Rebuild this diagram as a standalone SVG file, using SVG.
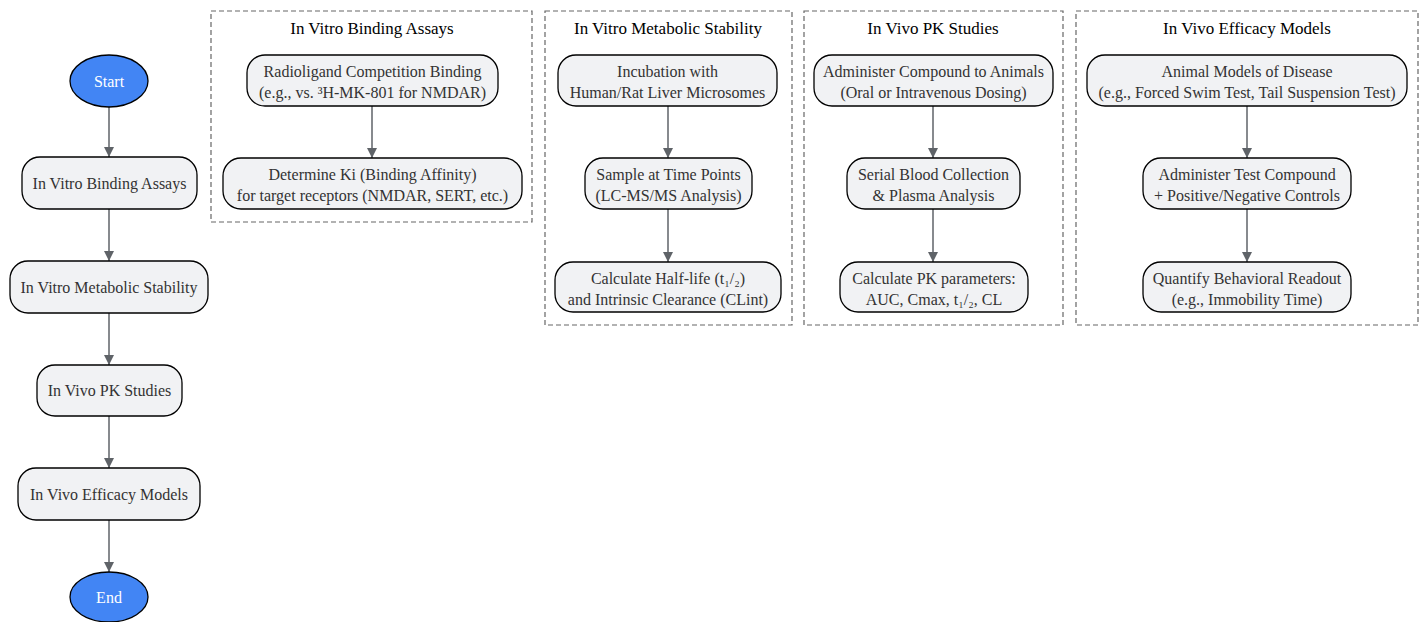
<svg xmlns="http://www.w3.org/2000/svg" width="1423" height="622" viewBox="0 0 1423 622">
<defs>
<marker id="ah" viewBox="0 0 10 10" refX="10" refY="5" markerWidth="10" markerHeight="10" markerUnits="userSpaceOnUse" orient="auto">
<path d="M0,0 L10,5 L0,10 z" fill="#5f6368"/>
</marker>
<style>
.n rect{fill:#f1f2f4;stroke:#000;stroke-width:1.3}
.n text{font-family:"Liberation Serif",serif;font-size:16px;fill:#333;text-anchor:middle;dominant-baseline:central}
.t ellipse{fill:#4285f4;stroke:#000;stroke-width:1.3}
.t text{font-family:"Liberation Serif",serif;font-size:16px;fill:#fff;text-anchor:middle;dominant-baseline:central}
.cl rect{fill:none;stroke:#666;stroke-width:1.2;stroke-dasharray:5,3}
.cl text{font-family:"Liberation Serif",serif;font-size:17px;fill:#000;text-anchor:middle;dominant-baseline:central}
.e line{stroke:#5f6368;stroke-width:1.5;marker-end:url(#ah)}
</style>
</defs>
<rect width="1423" height="622" fill="#fff"/>

<g id="cluster-binding" class="cl"><rect x="211" y="11" width="321" height="211"/><text x="372" y="28">In Vitro Binding Assays</text></g>
<g id="cluster-metabolic" class="cl"><rect x="545" y="11" width="247" height="314"/><text x="668" y="28">In Vitro Metabolic Stability</text></g>
<g id="cluster-pk" class="cl"><rect x="804" y="11" width="259" height="314"/><text x="933" y="28">In Vivo PK Studies</text></g>
<g id="cluster-efficacy" class="cl"><rect x="1076" y="11" width="342" height="314"/><text x="1247" y="28">In Vivo Efficacy Models</text></g>

<g id="connectors" class="e">
<line x1="109" y1="107" x2="109" y2="157"/>
<line x1="109" y1="209" x2="109" y2="261"/>
<line x1="109" y1="313" x2="109" y2="365"/>
<line x1="109" y1="416" x2="109" y2="468"/>
<line x1="109" y1="520" x2="109" y2="572"/>
<line x1="372" y1="106" x2="372" y2="158"/>
<line x1="668" y1="106" x2="668" y2="158"/>
<line x1="668" y1="209" x2="668" y2="262"/>
<line x1="933" y1="106" x2="933" y2="158"/>
<line x1="933" y1="209" x2="933" y2="262"/>
<line x1="1247" y1="106" x2="1247" y2="158"/>
<line x1="1247" y1="209" x2="1247" y2="262"/>
</g>

<g id="start" class="t"><ellipse cx="109" cy="81" rx="39" ry="26"/><text x="109" y="81">Start</text></g>
<g id="binding" class="n"><rect x="22" y="157" width="175" height="52" rx="18"/><text x="109.5" y="183">In Vitro Binding Assays</text></g>
<g id="metabolic" class="n"><rect x="10" y="261" width="198" height="52" rx="18"/><text x="109" y="287">In Vitro Metabolic Stability</text></g>
<g id="pk" class="n"><rect x="37" y="365" width="145" height="51" rx="18"/><text x="109.5" y="390.5">In Vivo PK Studies</text></g>
<g id="efficacy" class="n"><rect x="18" y="468" width="182" height="52" rx="18"/><text x="109" y="494">In Vivo Efficacy Models</text></g>
<g id="end" class="t"><ellipse cx="109" cy="597" rx="39" ry="25"/><text x="109" y="597">End</text></g>

<g id="b1" class="n"><rect x="247" y="55" width="251" height="51" rx="18"/><text x="372.5" y="71.5">Radioligand Competition Binding</text><text x="372.5" y="92.5">(e.g., vs. ³H-MK-801 for NMDAR)</text></g>
<g id="b2" class="n"><rect x="223" y="158" width="299" height="51" rx="18"/><text x="372.5" y="174.5">Determine Ki (Binding Affinity)</text><text x="372.5" y="195.5">for target receptors (NMDAR, SERT, etc.)</text></g>

<g id="m1" class="n"><rect x="558" y="55" width="219" height="51" rx="18"/><text x="667.5" y="71.5">Incubation with</text><text x="667.5" y="92.5">Human/Rat Liver Microsomes</text></g>
<g id="m2" class="n"><rect x="585" y="158" width="167" height="51" rx="18"/><text x="668.5" y="174.5">Sample at Time Points</text><text x="668.5" y="195.5">(LC-MS/MS Analysis)</text></g>
<g id="m3" class="n"><rect x="555" y="262" width="226" height="50" rx="18"/><text x="668" y="278">Calculate Half-life (t₁/₂)</text><text x="668" y="299">and Intrinsic Clearance (CLint)</text></g>

<g id="p1" class="n"><rect x="814" y="55" width="239" height="51" rx="18"/><text x="933.5" y="71.5">Administer Compound to Animals</text><text x="933.5" y="92.5">(Oral or Intravenous Dosing)</text></g>
<g id="p2" class="n"><rect x="847" y="158" width="173" height="51" rx="18"/><text x="933.5" y="174.5">Serial Blood Collection</text><text x="933.5" y="195.5">&amp; Plasma Analysis</text></g>
<g id="p3" class="n"><rect x="840" y="262" width="188" height="50" rx="18"/><text x="934" y="278">Calculate PK parameters:</text><text x="934" y="299">AUC, Cmax, t₁/₂, CL</text></g>

<g id="e1" class="n"><rect x="1087" y="55" width="320" height="51" rx="18"/><text x="1247" y="71.5">Animal Models of Disease</text><text x="1247" y="92.5">(e.g., Forced Swim Test, Tail Suspension Test)</text></g>
<g id="e2" class="n"><rect x="1143" y="158" width="208" height="51" rx="18"/><text x="1247" y="174.5">Administer Test Compound</text><text x="1247" y="195.5">+ Positive/Negative Controls</text></g>
<g id="e3" class="n"><rect x="1143" y="262" width="208" height="50" rx="18"/><text x="1247" y="278">Quantify Behavioral Readout</text><text x="1247" y="299">(e.g., Immobility Time)</text></g>
</svg>
